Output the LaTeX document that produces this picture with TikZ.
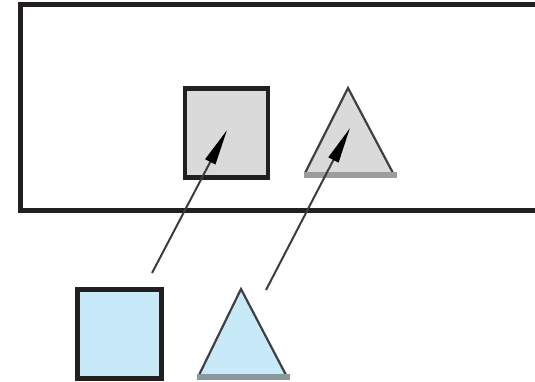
\documentclass[tikz,border=0pt]{standalone}
\usetikzlibrary{arrows.meta}
\definecolor{framecol}{HTML}{231F20}
\definecolor{graysq}{HTML}{DADADB}
\definecolor{bluesq}{HTML}{C8E9F8}
\definecolor{edgegray}{HTML}{404040}
\definecolor{bandgray}{HTML}{9C9C9C}
\definecolor{bandblue}{HTML}{8A989E}
\definecolor{arrowcol}{HTML}{3C3C3C}
\tikzset{
  sqbox/.style={draw=framecol, line width=4.5pt, inner sep=0pt, minimum width=83pt, minimum height=89pt},
  triedge/.style={draw=edgegray, line width=2.2pt, line join=miter},
  triband/.style={line width=6pt},
  movearrow/.style={draw=arrowcol, line width=2pt, -{Triangle[length=36pt,width=11pt,fill=black,color=black]}}
}
\begin{document}
\begin{tikzpicture}[x=1pt,y=-1pt]
\useasboundingbox (0,0) rectangle (535,381);
\clip (0,0) rectangle (535,381);
% frame
\draw[draw=framecol, line width=5pt] (20.5,4.5) rectangle (570,210.5);
% gray square
\node[sqbox, fill=graysq] (gs) at (226.5,133) {};
% gray triangle
\coordinate (gtA) at (348,88);
\coordinate (gtL) at (305,173);
\coordinate (gtR) at (393,173);
\fill[graysq] (gtA) -- (gtL) -- (gtR) -- cycle;
\draw[triedge] (gtL) -- (gtA) -- (gtR);
\draw[triband, bandgray] (304,175) -- (397,175);
% blue square
\node[sqbox, fill=bluesq, minimum width=84pt, minimum height=89pt] (bs) at (119.5,334) {};
% blue triangle
\coordinate (btA) at (241,289);
\coordinate (btL) at (199,375);
\coordinate (btR) at (286,375);
\fill[bluesq] (btA) -- (btL) -- (btR) -- cycle;
\draw[triedge] (btL) -- (btA) -- (btR);
\draw[triband, bandblue] (197,377) -- (290,377);
% arrows
\coordinate (a1s) at (152,273);
\coordinate (a1e) at (227,130);
\coordinate (a2s) at (266,290);
\coordinate (a2e) at (350,128);
\draw[movearrow] (a1s) -- (a1e);
\draw[movearrow] (a2s) -- (a2e);
\end{tikzpicture}
\end{document}
